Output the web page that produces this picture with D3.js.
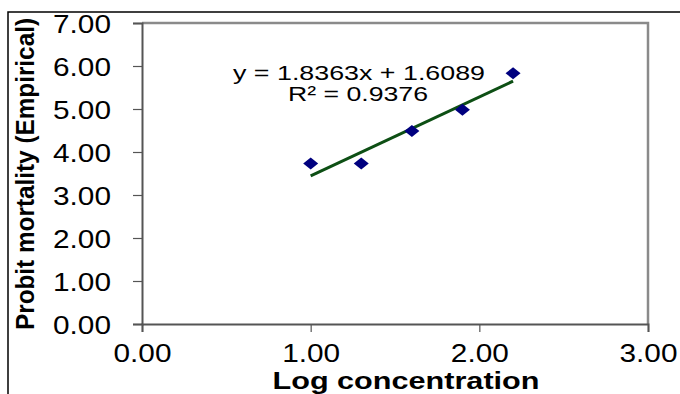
<!DOCTYPE html>
<html>
<head>
<meta charset="utf-8">
<script src="https://cdn.jsdelivr.net/npm/d3@7"></script>
<style>
  html, body { margin: 0; padding: 0; background: #fff; }
  svg { display: block; }
  text { font-family: "Liberation Sans", Arial, sans-serif; fill: #000; }
</style>
</head>
<body>
<script>
// ---- data ----
const logConc = [1.0, 1.3, 1.6, 1.9, 2.2];
const probit = [3.73, 3.73, 4.49, 4.98, 5.83];
const fitSlope = 1.8363;
const fitIntercept = 1.6089;
const equationText = "y = 1.8363x + 1.6089";
const r2Text = "R\u00B2 = 0.9376";
const xTicks = [0, 1, 2, 3];
const yTicks = [0, 1, 2, 3, 4, 5, 6, 7];
const xTitle = "Log concentration";
const yTitle = "Probit mortality (Empirical)";

const W = 680, H = 394;
const svg = d3.select("body").append("svg").attr("width", W).attr("height", H);

// outer frame (top + left only visible)
svg.append("path").attr("d", `M8,394 L8,12 L680,12`).attr("fill", "none")
  .attr("stroke", "#000").attr("stroke-width", 1.5);

const x = d3.scaleLinear().domain([0, 3]).range([142, 648]);
const y = d3.scaleLinear().domain([0, 7]).range([324, 23]);

// plot frame top/right (gray)
svg.append("path")
  .attr("d", `M${x(0)},${y(7)} L${x(3)},${y(7)} L${x(3)},${y(0)}`)
  .attr("fill", "none").attr("stroke", "#8a8a8a").attr("stroke-width", 2.5);

// axes
const fmt = d3.format(".2f");
const yAxis = svg.append("g").attr("transform", `translate(${x(0)},0)`)
  .call(d3.axisLeft(y).tickValues(yTicks).tickFormat(fmt).tickSize(9).tickPadding(22));
const xAxis = svg.append("g").attr("transform", `translate(0,${y(0)})`)
  .call(d3.axisBottom(x).tickValues(xTicks).tickFormat(fmt).tickSize(8).tickPadding(12));

[yAxis, xAxis].forEach(g => {
  g.select(".domain").attr("stroke", "#555").attr("stroke-width", 2);
  g.selectAll(".tick line").attr("stroke", "#555").attr("stroke-width", 1.2);
  g.selectAll(".tick text").attr("font-size", 25).attr("fill", "#000")
    .attr("font-family", "Liberation Sans, Arial, sans-serif")
    .attr("textLength", 58).attr("lengthAdjust", "spacingAndGlyphs");
});
yAxis.selectAll(".tick text").attr("dy", "0.36em");

// trendline
const x0 = d3.min(logConc), x1 = d3.max(logConc);
svg.append("line")
  .attr("x1", x(x0)).attr("y1", y(fitSlope * x0 + fitIntercept))
  .attr("x2", x(x1)).attr("y2", y(fitSlope * x1 + fitIntercept))
  .attr("stroke", "#0d4f14").attr("stroke-width", 3);

// markers (diamonds)
svg.append("g").selectAll("path").data(logConc).join("path")
  .attr("d", (d, i) => {
    const cx = x(d), cy = y(probit[i]);
    return `M${cx},${cy - 6} L${cx + 7.5},${cy} L${cx},${cy + 6} L${cx - 7.5},${cy} Z`;
  })
  .attr("fill", "#00007f");

// equation labels
svg.append("text").attr("x", 359).attr("y", 80).attr("text-anchor", "middle")
  .attr("font-size", 20).attr("textLength", 252).attr("lengthAdjust", "spacingAndGlyphs")
  .text(equationText);
svg.append("text").attr("x", 358).attr("y", 101).attr("text-anchor", "middle")
  .attr("font-size", 20).attr("textLength", 140).attr("lengthAdjust", "spacingAndGlyphs")
  .text(r2Text);

// axis titles
svg.append("text").attr("x", 406).attr("y", 389).attr("text-anchor", "middle")
  .attr("font-size", 24).attr("font-weight", "bold")
  .attr("textLength", 267).attr("lengthAdjust", "spacingAndGlyphs")
  .text(xTitle);
svg.append("text").attr("transform", "translate(34,174) rotate(-90)")
  .attr("text-anchor", "middle").attr("font-size", 25).attr("font-weight", "bold")
  .attr("textLength", 312).attr("lengthAdjust", "spacingAndGlyphs")
  .text(yTitle);
</script>
</body>
</html>
